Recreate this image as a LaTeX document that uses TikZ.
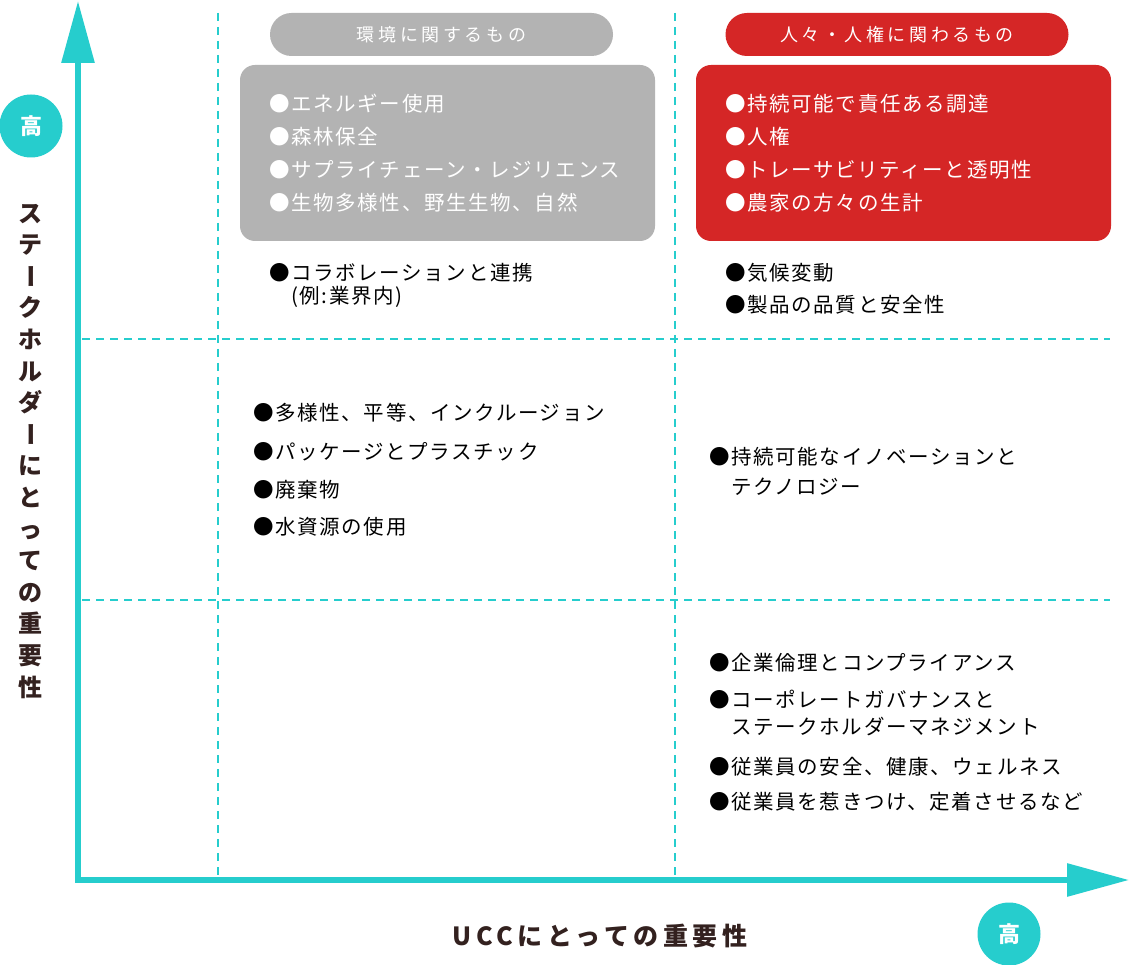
\documentclass[tikz,border=0pt]{standalone}
\usepackage{fontspec}
\usepackage{graphicx}
\usetikzlibrary{arrows.meta}
\newfontfamily\jpitem[LetterSpace=8]{Noto Sans CJK JP}
\newfontfamily\jphead[LetterSpace=20]{Noto Sans CJK JP}
\newfontfamily\jpbold[LetterSpace=18]{Noto Sans CJK JP}
\newfontfamily\jpvert{Noto Sans CJK JP}
\definecolor{accteal}{HTML}{26CDCD}
\definecolor{boxgray}{HTML}{B3B3B3}
\definecolor{boxred}{HTML}{D52626}
\definecolor{labelbrown}{HTML}{33211F}
\tikzset{
  itemtxt/.style={font=\jpitem\fontsize{20.5}{20.5}\selectfont, text=black, anchor=west,
    inner sep=0pt, text height=18pt, text depth=2.5pt},
  witem/.style={itemtxt, text=white},
  headpill/.style={rounded corners=21.5pt, minimum width=343pt, minimum height=43pt,
    inner sep=0pt, text=white, font=\jphead\fontsize{18}{18}\selectfont,
    text height=15.8pt, text depth=2.2pt},
  bigbox/.style={rounded corners=15pt, minimum width=415pt, minimum height=176pt, inner sep=0pt},
  gridline/.style={draw=accteal, line width=1.6pt, dash pattern=on 8pt off 6pt},
  axisline/.style={draw=accteal, line width=6pt, -{Triangle[length=62pt,width=32pt]}},
  highdot/.style={circle, fill=accteal, minimum size=63pt, inner sep=0pt, text=white,
    font=\jpvert\bfseries\fontsize{22}{22}\selectfont},
  verttxt/.style={font=\jpvert\bfseries\fontsize{24}{24}\selectfont, text=labelbrown,
    inner sep=0pt, text height=21.1pt, text depth=2.9pt}
}
\begin{document}
\begin{tikzpicture}[x=1pt,y=-1pt]
\useasboundingbox[fill=white] (0,0) rectangle (1130,965);

% grid (dashed)
\coordinate (v1t) at (218,13); \coordinate (v1b) at (218,878);
\coordinate (v2t) at (675,13); \coordinate (v2b) at (675,878);
\coordinate (h1l) at (82,339); \coordinate (h1r) at (1110,339);
\coordinate (h2l) at (82,600); \coordinate (h2r) at (1110,600);
\draw[gridline] (v1t) -- (v1b);
\draw[gridline] (v2t) -- (v2b);
\draw[gridline] (h1l) -- (h1r);
\draw[gridline] (h2l) -- (h2r);

% axes
\coordinate (yo) at (78,882); \coordinate (ytip) at (78,1);
\coordinate (xo) at (75,880); \coordinate (xtip) at (1129,880);
\draw[axisline] (yo) -- (ytip);
\draw[axisline] (xo) -- (xtip);

% high markers
\node[highdot] (hiy) at (31,126) {高};
\node[highdot] (hix) at (1009,934) {高};

% axis labels
\node[font=\jpbold\bfseries\fontsize{25}{25}\selectfont, text=labelbrown, inner sep=0pt]
  (xlabel) at (600,936) {UCCにとっての重要性};
\foreach \c/\r [count=\i] in {ス/0,テ/0,ー/90,ク/0,ホ/0,ル/0,ダ/0,ー/90,に/0,と/0,っ/0,て/0,の/0,重/0,要/0,性/0}{
  \node[verttxt, rotate=\r] (vl\i) at (31,{213+31.6*(\i-1)}) {\c};
}

% headers
\node[headpill, fill=boxgray] (ghead) at (441.5,34.5) {環境に関するもの};
\node[headpill, fill=boxred] (rhead) at (897,34.5) {人々・人権に関わるもの};

% boxes
\node[bigbox, fill=boxgray] (gbox) at (447.5,153) {};
\node[bigbox, fill=boxred] (rbox) at (903.5,153) {};

% gray box items
\node[witem] (g1) at (269,104) {●エネルギー使用};
\node[witem] (g2) at (269,137) {●森林保全};
\node[witem] (g3) at (269,170) {●サプライチェーン・レジリエンス};
\node[witem] (g4) at (269,203) {●生物多様性、野生生物、自然};

% red box items
\node[witem] (r1) at (725,104) {●持続可能で責任ある調達};
\node[witem] (r2) at (725,137) {●人権};
\node[witem] (r3) at (725,170) {●トレーサビリティーと透明性};
\node[witem] (r4) at (725,203) {●農家の方々の生計};

% top row, plain
\node[itemtxt] (c1) at (269,273) {●コラボレーションと連携};
\node[itemtxt] (c1b) at (291,296) {(例:業界内)};
\node[itemtxt] (c2) at (725,273) {●気候変動};
\node[itemtxt] (c3) at (725,305) {●製品の品質と安全性};

% middle row
\node[itemtxt] (m1) at (253,413) {●多様性、平等、インクルージョン};
\node[itemtxt] (m2) at (253,452) {●パッケージとプラスチック};
\node[itemtxt] (m3) at (253,490) {●廃棄物};
\node[itemtxt] (m4) at (253,527) {●水資源の使用};
\node[itemtxt] (m5) at (709,457) {●持続可能なイノベーションと};
\node[itemtxt] (m5b) at (731,487) {テクノロジー};

% bottom row
\node[itemtxt] (b1) at (709,663) {●企業倫理とコンプライアンス};
\node[itemtxt] (b2) at (709,700) {●コーポレートガバナンスと};
\node[itemtxt] (b2b) at (731,727) {ステークホルダーマネジメント};
\node[itemtxt] (b3) at (709,767) {●従業員の安全、健康、ウェルネス};
\node[itemtxt] (b4) at (709,802) {●従業員を惹きつけ、定着させるなど};
\end{tikzpicture}
\end{document}
